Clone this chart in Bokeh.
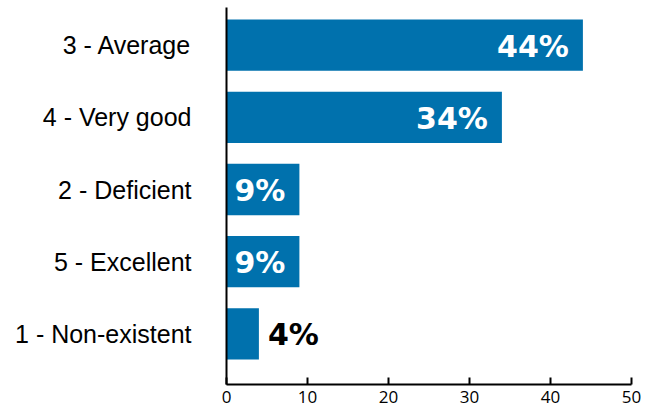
from bokeh.plotting import figure
from bokeh.models import Range1d, ColumnDataSource, FixedTicker
from bokeh.core.properties import value
from bokeh.embed import file_html
from bokeh.resources import INLINE

categories = ["3 - Average", "4 - Very good", "2 - Deficient", "5 - Excellent", "1 - Non-existent"]
percents = [44, 34, 9, 9, 4]
x_ticks = [0, 10, 20, 30, 40, 50]

n = len(categories)
ypos = [n - 1 - i for i in range(n)]
labels = [f"{v}%" for v in percents]
inside = [v >= 8 for v in percents]

bar_color = "#0071AD"

p = figure(width=652, height=408, output_backend="svg", toolbar_location=None,
           x_range=Range1d(0, 50), y_range=Range1d(-0.70, n - 1 + 0.52),
           min_border_left=226, min_border_right=21, min_border_top=7, min_border_bottom=24)
p.outline_line_color = None
p.xgrid.visible = False
p.ygrid.visible = False
p.background_fill_color = "white"
p.border_fill_color = "white"

src = ColumnDataSource(dict(y=ypos, v=percents))
p.hbar(y="y", left=0, right="v", height=0.71, source=src, fill_color=bar_color, line_color=None)

in_src = ColumnDataSource(dict(y=[y for y, k in zip(ypos, inside) if k],
                               v=[v for v, k in zip(percents, inside) if k],
                               t=[t for t, k in zip(labels, inside) if k]))
out_src = ColumnDataSource(dict(y=[y for y, k in zip(ypos, inside) if not k],
                                v=[v for v, k in zip(percents, inside) if not k],
                                t=[t for t, k in zip(labels, inside) if not k]))
p.text(x="v", y="y", text="t", source=in_src, text_align="right", text_baseline="middle",
       x_offset=-14, y_offset=1, text_color="white", text_font=value("DejaVu Sans"),
       text_font_style="bold", text_font_size="30px")
p.text(x="v", y="y", text="t", source=out_src, text_align="left", text_baseline="middle",
       x_offset=9, y_offset=1, text_color="black", text_font=value("DejaVu Sans"),
       text_font_style="bold", text_font_size="30px")

xa = p.xaxis[0]
xa.ticker = FixedTicker(ticks=x_ticks)
xa.major_tick_in = 7
xa.major_tick_out = 0
xa.minor_tick_line_color = None
xa.axis_line_width = 2
xa.major_tick_line_width = 2
xa.axis_line_color = "black"
xa.major_tick_line_color = "black"
xa.major_label_text_font = "Open Sans"
xa.major_label_text_font_size = "17px"
xa.major_label_text_color = "black"
xa.major_label_standoff = 6

ya = p.yaxis[0]
ya.ticker = FixedTicker(ticks=ypos)
ya.major_label_overrides = {y: c for y, c in zip(ypos, categories)}
ya.major_tick_line_color = None
ya.minor_tick_line_color = None
ya.axis_line_width = 2
ya.axis_line_color = "black"
ya.major_label_text_font = "Liberation Sans"
ya.major_label_text_font_size = "25px"
ya.major_label_text_color = "black"
ya.major_label_standoff = 29

open("out.html", "w").write(file_html(p, INLINE))
